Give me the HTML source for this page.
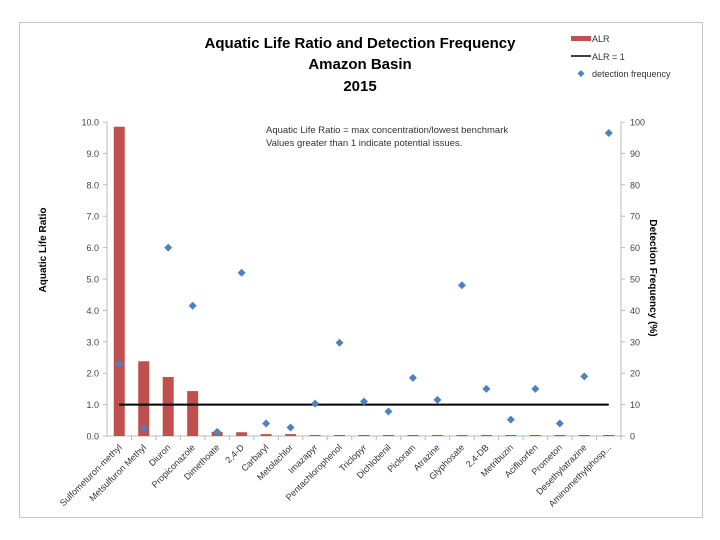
<!DOCTYPE html>
<html><head><meta charset="utf-8"><style>
html,body{margin:0;padding:0;background:#fff;}
svg{display:block;font-family:"Liberation Sans",sans-serif;}
</style></head><body>
<svg id="chart" width="720" height="540" viewBox="0 0 720 540">
<rect x="19.5" y="22.5" width="683" height="495" fill="#fff" stroke="#c8c8c8"/>
<g font-weight="bold" font-size="15" text-anchor="middle" fill="#000">
<text x="360" y="48">Aquatic Life Ratio and Detection Frequency</text>
<text x="360" y="69">Amazon Basin</text>
<text x="360" y="91">2015</text>
</g>
<g font-size="9.5" fill="#333">
<text x="266" y="133">Aquatic Life Ratio = max concentration/lowest benchmark</text>
<text x="266" y="146">Values greater than 1 indicate potential issues.</text>
</g>
<g font-size="9" fill="#333">
<g><rect x="571" y="36" width="20" height="5" fill="#c0504d"/><text x="592" y="42">ALR</text></g>
<g><line x1="571" y1="56" x2="591" y2="56" stroke="#000" stroke-width="1.5"/><text x="592" y="60">ALR = 1</text></g>
<g><path d="M581,70 l3.5,3.5 l-3.5,3.5 l-3.5,-3.5z" fill="#4f81bd"/><text x="592" y="77">detection frequency</text></g>
</g>
<text transform="translate(46,250) rotate(-90)" text-anchor="middle" font-size="10" font-weight="bold">Aquatic Life Ratio</text>
<text transform="translate(650,278) rotate(90)" text-anchor="middle" font-size="10" font-weight="bold">Detection Frequency (%)</text>
<g id="axes"></g>
<g id="marks"></g>
</svg>
<script>
const categories=["Sulfometuron-methyl","Metsulfuron Methyl","Diuron","Propiconazole","Dimethoate","2,4-D","Carbaryl","Metolachlor","Imazapyr","Pentachlorophenol","Triclopyr","Dichlobenil","Picloram","Atrazine","Glyphosate","2,4-DB","Metribuzin","Acifluorfen","Prometon","Desethylatrazine","Aminomethylphosp..."];
const alrValues=[9.85,2.38,1.88,1.43,0.13,0.12,0.06,0.06,0.03,0.01,0.01,0.01,0.01,0.01,0.01,0.01,0.01,0.01,0.01,0.01,0.01];
const detectionValues=[23,2.5,60,41.5,1.3,52,4,2.7,10.3,29.7,11,7.8,18.5,11.5,48,15,5.2,15,4,19,96.5];
const leftTicks=["0.0","1.0","2.0","3.0","4.0","5.0","6.0","7.0","8.0","9.0","10.0"];
const rightTicks=["0","10","20","30","40","50","60","70","80","90","100"];
const threshold=[1];
const NS="http://www.w3.org/2000/svg";
const X0=107,X1=621,Y0=436,Y1=122;
const slot=(X1-X0)/categories.length;
const xc=i=>X0+slot*(i+0.5);
const yL=v=>Y0-(v/10)*(Y0-Y1);
const yR=v=>Y0-(v/100)*(Y0-Y1);
function mk(tag,attrs,parent){const e=document.createElementNS(NS,tag);for(const k in attrs)e.setAttribute(k,attrs[k]);parent.appendChild(e);return e;}
const axes=document.getElementById('axes'),marks=document.getElementById('marks');
let e;
e=mk('line',{x1:X0,y1:Y1,x2:X0,y2:Y0,stroke:'#bbb'},axes);


e=mk('line',{x1:X1,y1:Y1,x2:X1,y2:Y0,stroke:'#bbb'},axes);


e=mk('line',{x1:X0,y1:Y0,x2:X1,y2:Y0,stroke:'#bbb'},axes);


leftTicks.forEach((t,i)=>{const y=yL(parseFloat(t));
mk('line',{x1:X0-4,y1:y,x2:X0,y2:y,stroke:'#bbb'},axes);
e=mk('text',{x:X0-8,y:y+3.5,'text-anchor':'end','font-size':'9',fill:'#444'},axes);e.textContent=t;

});
rightTicks.forEach((t,i)=>{const y=yR(parseFloat(t));
mk('line',{x1:X1,y1:y,x2:X1+4,y2:y,stroke:'#bbb'},axes);
e=mk('text',{x:X1+9,y:y+3.5,'font-size':'9',fill:'#444'},axes);e.textContent=t;

});
categories.forEach((c,i)=>{const xt=X0+slot*(i+1);
mk('line',{x1:xt,y1:Y0,x2:xt,y2:Y0+4,stroke:'#bbb'},axes);
const x=xc(i);
e=mk('text',{x:x+3,y:Y0+12,'text-anchor':'end','font-size':'9',fill:'#333',transform:`rotate(-45 ${x+3} ${Y0+12})`},axes);e.textContent=c;

});
alrValues.forEach((v,i)=>{const y=yL(v);const h=Math.max(Y0-y,1);
e=mk('rect',{x:xc(i)-5.5,y:Y0-h,width:11,height:h,fill:'#c0504d'},marks);

});
e=mk('line',{x1:xc(0),y1:yL(threshold[0]),x2:xc(categories.length-1),y2:yL(threshold[0]),stroke:'#000','stroke-width':2},marks);


detectionValues.forEach((v,i)=>{const x=xc(i),y=yR(v);
e=mk('path',{d:`M${x},${y-4} L${x+4},${y} L${x},${y+4} L${x-4},${y}Z`,fill:'#4f81bd'},marks);

});
</script>
</body></html>
